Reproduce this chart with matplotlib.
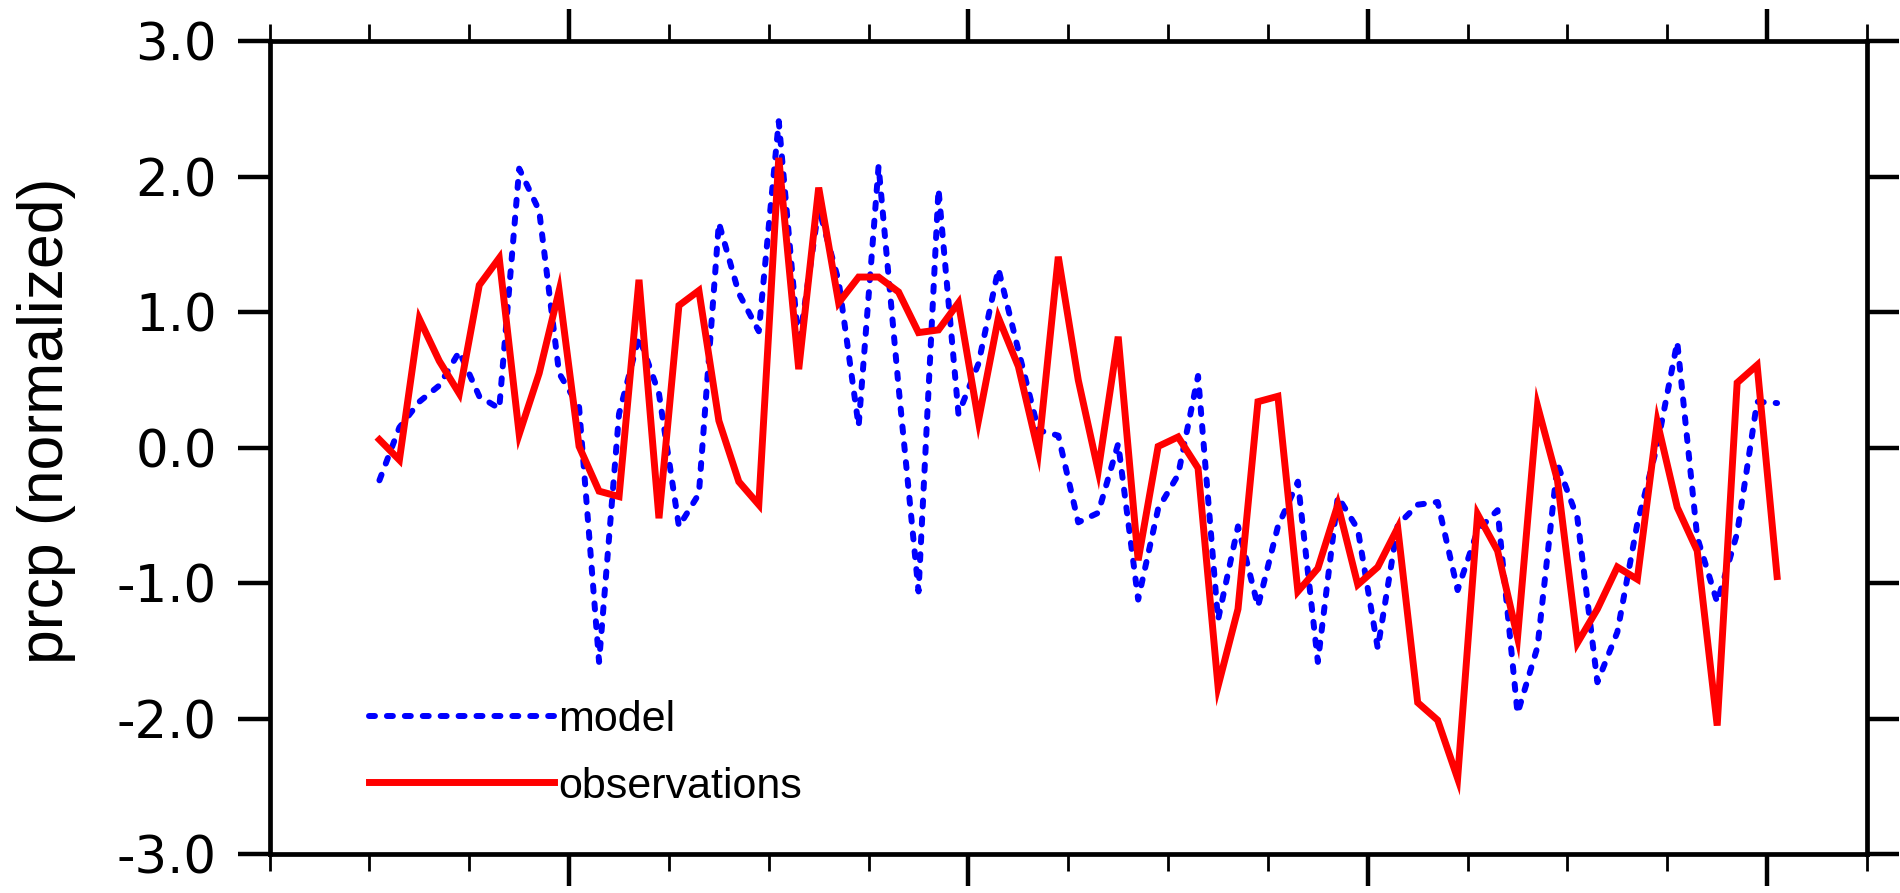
import numpy as np
import matplotlib
matplotlib.use("Agg")
import matplotlib.pyplot as plt
from matplotlib.ticker import FixedLocator, MultipleLocator

# yearly series, 1950-2020
years = np.arange(1950, 2021)

model = [-0.24, 0.15, 0.34, 0.46, 0.71, 0.38, 0.29, 2.06, 1.75, 0.55,
         0.30, -1.58, 0.25, 0.82, 0.40, -0.58, -0.34, 1.66, 1.14, 0.86,
         2.41, 0.75, 1.77, 1.23, 0.16, 2.08, 0.45, -1.06, 1.91, 0.25,
         0.62, 1.32, 0.72, 0.13, 0.09, -0.55, -0.48, 0.03, -1.12, -0.45,
         -0.20, 0.53, -1.27, -0.58, -1.17, -0.58, -0.25, -1.58, -0.36, -0.60,
         -1.48, -0.57, -0.42, -0.40, -1.05, -0.61, -0.46, -1.96, -1.47, -0.12,
         -0.52, -1.73, -1.36, -0.56, 0.02, 0.78, -0.66, -1.14, -0.63, 0.34,
         0.33]

obs = [0.06, -0.09, 0.95, 0.64, 0.40, 1.20, 1.40, 0.10, 0.55, 1.16,
       0.01, -0.32, -0.36, 1.24, -0.52, 1.05, 1.16, 0.20, -0.25, -0.42,
       2.14, 0.58, 1.92, 1.07, 1.26, 1.26, 1.15, 0.85, 0.87, 1.07,
       0.20, 0.96, 0.60, -0.03, 1.41, 0.50, -0.17, 0.82, -0.83, 0.01,
       0.08, -0.15, -1.76, -1.19, 0.34, 0.38, -1.06, -0.89, -0.42, -1.01,
       -0.88, -0.59, -1.88, -2.01, -2.44, -0.49, -0.76, -1.40, 0.31, -0.24,
       -1.44, -1.19, -0.88, -0.97, 0.19, -0.44, -0.76, -2.05, 0.48, 0.61,
       -0.95]

yticks = [-3, -2, -1, 0, 1, 2, 3]
ytick_labels = ["-3.0", "-2.0", "-1.0", "0.0", "1.0", "2.0", "3.0"]
xmajor = [1960, 1980, 2000, 2020]

fig = plt.figure(figsize=(19, 8.93), dpi=100)
ax = fig.add_axes([0.1419, 0.0433, 0.8407, 0.9105])

x = years + 0.5  # mid-year
ax.plot(x, model, color="blue", lw=4.3, dashes=(1.0, 2.0),
        dash_capstyle="round", label="model")
ax.plot(x, obs, color="red", lw=5.0, solid_joinstyle="miter", label="observations")

ax.set_xlim(1945, 2025)
ax.set_ylim(-3, 3)
ax.xaxis.set_major_locator(FixedLocator(xmajor))
ax.xaxis.set_minor_locator(MultipleLocator(5))
ax.set_yticks(yticks)
ax.set_yticklabels(ytick_labels, fontfamily="DejaVu Sans", fontsize=37)
ax.set_xticklabels([])

ax.tick_params(which="both", direction="out", top=True, right=True,
               labeltop=False, labelright=False, labelbottom=False)
ax.tick_params(which="major", length=23, width=3.2, pad=15)
ax.tick_params(which="minor", length=12, width=2.0)
for s in ax.spines.values():
    s.set_linewidth(3.4)

ax.set_ylabel("prcp (normalized)", fontfamily="Liberation Sans", fontsize=45)
ax.yaxis.set_label_coords(-0.121, 0.533)

ax.legend(loc="upper left", bbox_to_anchor=(0.062, 0.19), frameon=False,
          prop={"family": "Liberation Sans", "size": 31},
          handlelength=4.3, handletextpad=0.1, labelspacing=0.62,
          borderpad=0, borderaxespad=0)

fig.savefig("out.png", dpi=100)
